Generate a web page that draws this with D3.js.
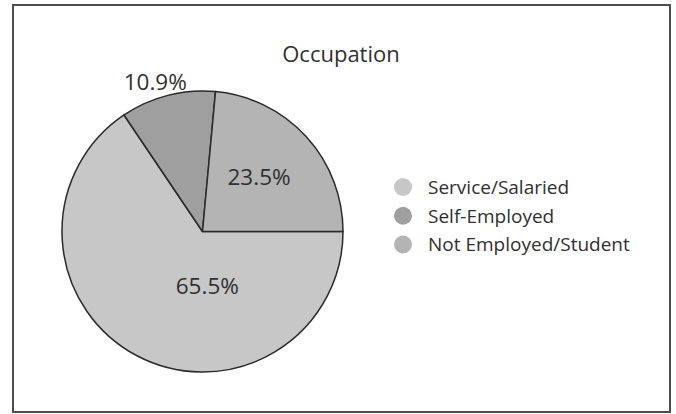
<!DOCTYPE html>
<html>
<head>
<meta charset="utf-8">
<script src="https://cdn.jsdelivr.net/npm/d3@7"></script>
<style>
  html, body { margin: 0; padding: 0; background: #fff; }
  svg { display: block; }
  text { font-family: "Open Sans", "DejaVu Sans", sans-serif; fill: #303030; }
</style>
</head>
<body>
<svg id="chart" width="676" height="414"></svg>
<script>
// Occupation breakdown (percent of respondents)
const categories = ["Service/Salaried", "Self-Employed", "Not Employed/Student"];
const shares = [65.5, 10.9, 23.5];
const labels = ["65.5%", "10.9%", "23.5%"];
const title = "Occupation";

// Slice fills, in category order
const fills = ["#c6c7c6", "#9e9f9e", "#b3b4b3"];
// Where each value label sits: fraction along the slice's sweep, and fraction of the radius
const labelPlacement = [[0.36, 0.39], [0.42, 1.12], [0.48, 0.56]];

const svg = d3.select("#chart");

// outer frame
svg.append("rect")
  .attr("x", 13).attr("y", 5)
  .attr("width", 657).attr("height", 407)
  .attr("fill", "#fff")
  .attr("stroke", "#4d4d4d")
  .attr("stroke-width", 2);

// title
svg.append("text")
  .attr("x", 341).attr("y", 62)
  .attr("text-anchor", "middle")
  .style("font-size", "22px")
  .text(title);

// pie
const cx = 202.5, cy = 231.5, R = 140.5;
const pie = d3.pie().sort(null)
  .startAngle(Math.PI / 2)
  .endAngle(Math.PI / 2 + 2 * Math.PI);
const arcs = pie(shares);
const arc = d3.arc().innerRadius(0).outerRadius(R);

const g = svg.append("g").attr("transform", `translate(${cx},${cy})`);
g.selectAll("path.slice")
  .data(arcs)
  .join("path")
  .attr("class", "slice")
  .attr("d", arc)
  .attr("fill", (d, i) => fills[i])
  .attr("stroke", "#2a2a2a")
  .attr("stroke-width", 1.5)
  .attr("stroke-linejoin", "round");

g.selectAll("text.value")
  .data(arcs)
  .join("text")
  .attr("class", "value")
  .attr("text-anchor", "middle")
  .attr("dy", "0.36em")
  .style("font-size", "22.5px")
  .attr("x", (d, i) => {
    const a = d.startAngle + (d.endAngle - d.startAngle) * labelPlacement[i][0];
    return Math.sin(a) * R * labelPlacement[i][1];
  })
  .attr("y", (d, i) => {
    const a = d.startAngle + (d.endAngle - d.startAngle) * labelPlacement[i][0];
    return -Math.cos(a) * R * labelPlacement[i][1];
  })
  .text((d, i) => labels[i]);

// legend
const legendY = d3.scalePoint().domain(categories).range([187, 244.5]);
const legend = svg.append("g");
const rows = legend.selectAll("g")
  .data(categories)
  .join("g")
  .attr("transform", d => `translate(403,${legendY(d)})`);
rows.append("circle")
  .attr("r", 9)
  .attr("fill", (d, i) => fills[i]);
rows.append("text")
  .attr("x", 25)
  .attr("dy", "0.36em")
  .style("font-size", "19px")
  .text(d => d);
</script>
</body>
</html>
